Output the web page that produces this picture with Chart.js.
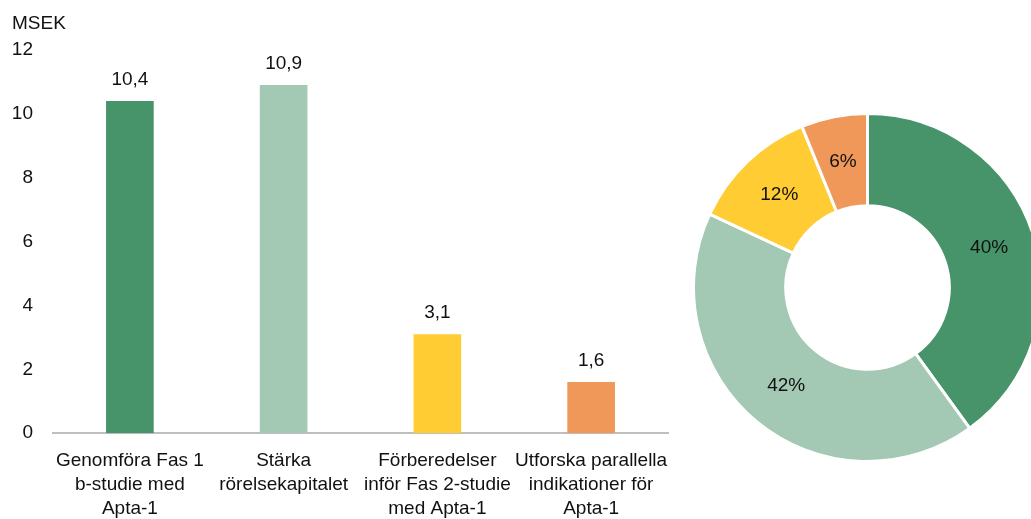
<!DOCTYPE html>
<html>
<head>
<meta charset="utf-8">
<script src="https://cdn.jsdelivr.net/npm/chart.js"></script>
<style>
  html, body { margin: 0; padding: 0; background: #fff; overflow: hidden; width: 1031px; height: 519px; }
  #barWrap { position: absolute; left: 0; top: 0; width: 680px; height: 529px; }
  #pieWrap { position: absolute; left: 692px; top: 112px; width: 351px; height: 351px; }
</style>
</head>
<body>
<div id="barWrap"><canvas id="bars"></canvas></div>
<div id="pieWrap"><canvas id="pie"></canvas></div>
<script>
  'use strict';

  // Data
  const categories = [
    ['Genomföra Fas 1', 'b-studie med', 'Apta-1'],
    ['Stärka', 'rörelsekapitalet'],
    ['Förberedelser', 'inför Fas 2-studie', 'med Apta-1'],
    ['Utforska parallella', 'indikationer för', 'Apta-1']
  ];
  const amounts = [10.4, 10.9, 3.1, 1.6];
  const colors = ['#47936a', '#a3c8b3', '#ffcc33', '#f0985a'];
  const yTicks = [0, 2, 4, 6, 8, 10, 12];
  const unitLabel = 'MSEK';

  const FONT = '"Liberation Sans", Arial, sans-serif';
  const SIZE = 19;
  const textColor = '#111';

  const fmt = (v) => v.toFixed(1).replace('.', ',');
  const total = amounts.reduce((a, b) => a + b, 0);

  // Value labels drawn above bars / inside slices
  const valueLabels = {
    id: 'valueLabels',
    afterDatasetsDraw(chart) {
      const ctx = chart.ctx;
      const meta = chart.getDatasetMeta(0);
      const isPie = chart.config.type === 'doughnut';
      ctx.save();
      ctx.font = `${SIZE}px ${FONT}`;
      ctx.fillStyle = textColor;
      ctx.textAlign = 'center';
      meta.data.forEach((el, i) => {
        const v = chart.data.datasets[0].data[i];
        if (isPie) {
          const p = el.tooltipPosition();
          ctx.textBaseline = 'middle';
          ctx.fillText(Math.round(v / total * 100) + '%', p.x, p.y);
        } else {
          ctx.textBaseline = 'alphabetic';
          ctx.fillText(fmt(v), el.x, el.y - 16);
        }
      });
      ctx.restore();
    }
  };

  new Chart(document.getElementById('bars'), {
    type: 'bar',
    data: {
      labels: categories,
      datasets: [{
        data: amounts,
        backgroundColor: colors,
        barPercentage: 0.31,
        categoryPercentage: 1
      }]
    },
    options: {
      responsive: true,
      maintainAspectRatio: false,
      animation: false,
      layout: { padding: { left: 12, right: 12, top: 0, bottom: 0 } },
      plugins: {
        legend: { display: false },
        tooltip: { enabled: false },
        title: {
          display: true,
          text: unitLabel,
          align: 'start',
          color: textColor,
          font: { family: FONT, size: SIZE, weight: 'normal', lineHeight: 1.2 },
          padding: { top: 12, bottom: 15 }
        }
      },
      scales: {
        x: {
          grid: { display: false },
          border: { color: '#bfbfbf', width: 2 },
          ticks: {
            color: textColor,
            padding: 8,
            maxRotation: 0,
            autoSkip: false,
            font: { family: FONT, size: SIZE, lineHeight: 1.26 }
          },
          // long labels may overhang the plot edges, as in the original
          afterFit(scale) {
            scale.paddingLeft = 0;
            scale.paddingRight = 0;
          }
        },
        y: {
          min: 0,
          max: 12,
          grid: { display: false, drawTicks: false },
          border: { display: false },
          afterBuildTicks(scale) {
            scale.ticks = yTicks.map(v => ({ value: v }));
          },
          afterFit(scale) {
            scale.width = 41;
          },
          ticks: {
            color: textColor,
            padding: 20,
            font: { family: FONT, size: SIZE }
          }
        }
      }
    },
    plugins: [valueLabels]
  });

  new Chart(document.getElementById('pie'), {
    type: 'doughnut',
    data: {
      labels: categories.map(c => c.join(' ')),
      datasets: [{
        data: amounts,
        backgroundColor: colors,
        borderColor: '#ffffff',
        borderWidth: 3
      }]
    },
    options: {
      responsive: true,
      maintainAspectRatio: false,
      animation: false,
      cutout: '47%',
      layout: { padding: 0 },
      plugins: {
        legend: { display: false },
        tooltip: { enabled: false }
      }
    },
    plugins: [valueLabels]
  });
</script>
</body>
</html>
